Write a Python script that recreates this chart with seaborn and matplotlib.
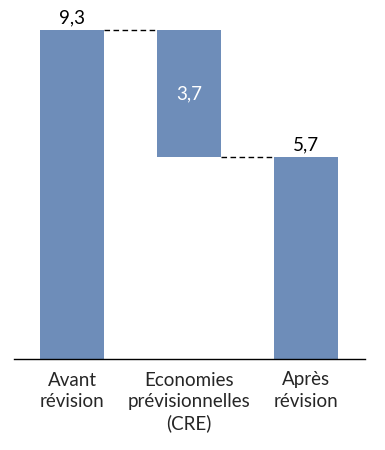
import matplotlib
matplotlib.use("Agg")
import numpy as np
import pandas as pd
import matplotlib.pyplot as plt
import seaborn as sns

categories = ["Avant\nrévision", "Economies\nprévisionnelles\n(CRE)", "Après\nrévision"]
tops = [9.3, 9.3, 5.7]
bottoms = [0.0, 5.7, 0.0]
labels = ["9,3", "3,7", "5,7"]

sns.set_style("white")
plt.rcParams["font.family"] = ["Lato", "DejaVu Sans"]

df = pd.DataFrame({"cat": categories,
                   "height": np.array(tops) - np.array(bottoms),
                   "bottom": bottoms})

fig = plt.figure(figsize=(3.85, 4.5), dpi=100)
ax = fig.add_axes([13.5 / 385, 91 / 450, 351 / 385, 354 / 450])

color = "#6E8DB9"
sns.barplot(data=df, x="cat", y="height", color=color, width=0.55,
            saturation=1, ax=ax, errorbar=None)
# shift the floating bar up to its base
for patch, b in zip(ax.patches, df["bottom"]):
    patch.set_y(b)
    patch.set_edgecolor("none")

# dashed connectors between bars
w = 0.55 / 2
for i in range(len(categories) - 1):
    level = tops[i] if i == 0 else bottoms[i]
    ax.plot([i + w, i + 1 - w], [level, level], color="black", lw=1,
            ls=(0, (4, 2.5)))

# value labels
for i, lab in enumerate(labels):
    if i == 1:
        ax.text(i, (tops[i] + bottoms[i]) / 2, lab, ha="center", va="center",
                color="white", fontsize=13.5)
    else:
        ax.text(i, tops[i] + 0.1, lab, ha="center", va="bottom",
                color="black", fontsize=13.5)

ax.set_xlim(-0.5, 2.5)
ax.set_ylim(0, 10)
ax.set_xlabel("")
ax.set_ylabel("")
ax.set_yticks([])
ax.tick_params(axis="x", length=0, labelsize=13.5, pad=9)
for t in ax.get_xticklabels():
    t.set_linespacing(1.3)
for s in ["top", "right", "left"]:
    ax.spines[s].set_visible(False)
ax.spines["bottom"].set_color("black")
ax.spines["bottom"].set_linewidth(1)

fig.savefig("out.png", dpi=100)
